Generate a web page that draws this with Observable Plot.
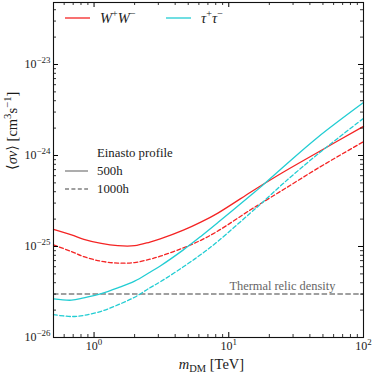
<!DOCTYPE html>
<html><head><meta charset="utf-8">
<script src="https://cdn.jsdelivr.net/npm/d3@7"></script>
<script src="https://cdn.jsdelivr.net/npm/@observablehq/plot@0.6"></script>
<style>
html,body{margin:0;padding:0;background:#fff}
#wrap{position:relative;width:374px;height:374px;font-family:"Liberation Serif","DejaVu Serif",serif;color:#222}
.entry{position:absolute;height:20px;display:flex;align-items:center;white-space:nowrap;font-size:12px}
.entry sup{font-size:70%;vertical-align:0.55em;line-height:0}
.entry svg{display:block}
</style></head><body>
<div id="wrap"><div id="chart"></div></div>
<script>
// ---- data ----
const mass   = [0.5, 0.68, 0.84, 1.13, 1.5, 2.0, 2.6, 3.1, 4.6, 6.2, 8.3, 14.5, 17.3, 25.5, 45.6, 100];
const ww500  = [1.54e-25, 1.34e-25, 1.20e-25, 1.08e-25, 1.02e-25, 1.02e-25, 1.12e-25, 1.21e-25, 1.51e-25, 1.85e-25, 2.33e-25, 3.95e-25, 4.65e-25, 6.59e-25, 1.08e-24, 2.09e-24];
const ww1000 = [1.04e-25, 8.80e-26, 7.72e-26, 6.89e-26, 6.57e-26, 6.66e-26, 7.25e-26, 7.82e-26, 9.65e-26, 1.17e-25, 1.48e-25, 2.53e-25, 2.97e-25, 4.23e-25, 7.21e-25, 1.42e-24];
const tt500  = [2.66e-26, 2.57e-26, 2.73e-26, 3.04e-26, 3.51e-26, 4.16e-26, 5.22e-26, 6.11e-26, 9.18e-26, 1.29e-25, 1.83e-25, 3.63e-25, 4.52e-25, 7.53e-25, 1.58e-24, 3.82e-24];
const tt1000 = [1.78e-26, 1.70e-26, 1.75e-26, 1.94e-26, 2.28e-26, 2.77e-26, 3.52e-26, 4.09e-26, 5.98e-26, 8.15e-26, 1.14e-25, 2.34e-25, 2.94e-25, 4.96e-25, 1.03e-24, 2.56e-24];
const relic = 3e-26;
const relicText = "Thermal relic density";
const relicTextMass = 25;

const channels = ["W+W−", "τ+τ−"];
const channelLabels = ["<i>W</i><sup>+</sup><i>W</i><sup>−</sup>", "<i>τ</i><sup>+</sup><i>τ</i><sup>−</sup>"];
const profileTitle = "Einasto profile";
const exposures = ["500h", "1000h"];

const xMajor = [1, 10, 100];
const xTickLabels = ["10<sup>0</sup>", "10<sup>1</sup>", "10<sup>2</sup>"];
const xMinor = [0.6,0.7,0.8,0.9,2,3,4,5,6,7,8,9,20,30,40,50,60,70,80,90];
const yMajor = [1e-26, 1e-25, 1e-24, 1e-23];
const yTickLabels = ["10<sup>−26</sup>", "10<sup>−25</sup>", "10<sup>−24</sup>", "10<sup>−23</sup>"];
const yMinor = [2e-26,3e-26,4e-26,5e-26,6e-26,7e-26,8e-26,9e-26,
                2e-25,3e-25,4e-25,5e-25,6e-25,7e-25,8e-25,9e-25,
                2e-24,3e-24,4e-24,5e-24,6e-24,7e-24,8e-24,9e-24,
                2e-23,3e-23,4e-23];
const xLabel = "<i>m</i><sub>DM</sub> [TeV]";
const yLabel = "⟨<i>σv</i>⟩ [cm<sup>3</sup>s<sup>−1</sup>]";

// ---- build table ----
const rows = [];
const seriesDefs = [
  {channel: channels[0], exposure: exposures[0], vals: ww500},
  {channel: channels[0], exposure: exposures[1], vals: ww1000},
  {channel: channels[1], exposure: exposures[0], vals: tt500},
  {channel: channels[1], exposure: exposures[1], vals: tt1000},
];
for (const s of seriesDefs) mass.forEach((m, i) => rows.push({mass: m, sv: s.vals[i], channel: s.channel, exposure: s.exposure, key: s.channel + s.exposure}));

// ---- styles ----
const RED = "#f42424", CYAN = "#22cdd3", GRAY = "#808080";
const colorOf = {[channels[0]]: RED, [channels[1]]: CYAN};
const dashOf = {[exposures[0]]: null, [exposures[1]]: "4,2.4"};
const W = 374, H = 374, mL = 53, mR = 11, mT = 2, mB = 37;
const iW = W - mL - mR, iH = H - mT - mB;
const MAJ = 5, MIN = 3;

const lineMarks = seriesDefs.map(s => Plot.line(rows.filter(r => r.key === s.channel + s.exposure), {
  x: "mass", y: "sv", stroke: colorOf[s.channel], strokeWidth: 1.3,
  strokeDasharray: dashOf[s.exposure], curve: "catmull-rom"
}));

const tickMarks = [
  Plot.tickX(xMajor, {x: Plot.identity, insetTop: iH - MAJ, stroke: "#000"}),
  Plot.tickX(xMinor, {x: Plot.identity, insetTop: iH - MIN, stroke: "#000", strokeWidth: 0.8}),
  Plot.tickX(xMajor, {x: Plot.identity, insetBottom: iH - MAJ, stroke: "#000"}),
  Plot.tickX(xMinor, {x: Plot.identity, insetBottom: iH - MIN, stroke: "#000", strokeWidth: 0.8}),
  Plot.tickY(yMajor, {y: Plot.identity, insetRight: iW - MAJ, stroke: "#000"}),
  Plot.tickY(yMinor, {y: Plot.identity, insetRight: iW - MIN, stroke: "#000", strokeWidth: 0.8}),
  Plot.tickY(yMajor, {y: Plot.identity, insetLeft: iW - MAJ, stroke: "#000"}),
  Plot.tickY(yMinor, {y: Plot.identity, insetLeft: iW - MIN, stroke: "#000", strokeWidth: 0.8}),
];

const chart = Plot.plot({
  width: W, height: H, marginLeft: mL, marginRight: mR, marginTop: mT, marginBottom: mB,
  x: {type: "log", domain: [0.5, 100], axis: null},
  y: {type: "log", domain: [1e-26, 4.8e-23], axis: null},
  style: {fontFamily: "'Liberation Serif', 'DejaVu Serif', serif", background: "white", overflow: "visible"},
  marks: [
    Plot.ruleY([relic], {stroke: GRAY, strokeWidth: 1.5, strokeDasharray: "5.5,2.4"}),
    Plot.text([relicText], {x: () => relicTextMass, y: () => relic, text: Plot.identity, dy: -8, fill: "#666", fontSize: 12.4}),
    ...lineMarks,
    ...tickMarks,
    Plot.frame({stroke: "#111", strokeWidth: 1.1}),
    Plot.text(xMajor, {x: Plot.identity, text: (d, i) => xTickLabels[i], frameAnchor: "bottom", lineAnchor: "top", dy: 4, fontSize: 12, fill: "#1a1a1a"}),
    Plot.text(yMajor, {y: Plot.identity, text: (d, i) => yTickLabels[i], frameAnchor: "left", textAnchor: "end", dx: -3, fontSize: 12, fill: "#1a1a1a"}),
    Plot.text([xLabel], {text: Plot.identity, frameAnchor: "bottom", lineAnchor: "top", dy: 21, dx: 3, fontSize: 14.5, fill: "#1a1a1a"}),
    Plot.text([yLabel], {text: Plot.identity, frameAnchor: "left", rotate: -90, dx: -41, fontSize: 14.5, fill: "#1a1a1a"}),
  ]
});
document.getElementById("chart").appendChild(chart);

// rich text (superscripts / subscripts / italics) as tspans
function richify(el) {
  const markup = el.textContent;
  const fs = parseFloat(getComputedStyle(el).fontSize) || 11;
  const parts = markup.split(/(<(?:i|sup|sub)>.*?<\/(?:i|sup|sub)>)/).filter(Boolean);
  let shift = 0, html = "";
  for (const p of parts) {
    let m, target = 0, attrs = "";
    if ((m = p.match(/^<sup>(.*)<\/sup>$/))) { target = -0.42 * fs; attrs = ` font-size="${0.74 * fs}"`; }
    else if ((m = p.match(/^<sub>(.*)<\/sub>$/))) { target = 0.2 * fs; attrs = ` font-size="${0.72 * fs}"`; }
    else if ((m = p.match(/^<i>(.*)<\/i>$/))) { attrs = ` font-style="italic"`; }
    const content = m ? m[1] : p;
    html += `<tspan dy="${target - shift}"${attrs}>${content}</tspan>`;
    shift = target;
  }
  el.innerHTML = html;
}
chart.querySelectorAll("text").forEach(t => { if (t.textContent.includes("<")) richify(t); });

// ---- legends (HTML overlay) ----
const wrap = document.getElementById("wrap");
function lineSvg(color, dash, w) {
  return `<svg width="${w}" height="4"><line x1="0" x2="${w}" y1="2" y2="2" stroke="${color}" stroke-width="1.3"${dash ? ` stroke-dasharray="${dash}"` : ""}/></svg>`;
}
function addEntry(left, cy, inner, gap, fs) {
  const d = document.createElement("div");
  d.className = "entry";
  d.style.left = left + "px"; d.style.top = (cy - 10) + "px"; d.style.gap = gap + "px";
  d.style.fontSize = fs + "px";
  d.innerHTML = inner;
  wrap.appendChild(d);
  return d;
}
const chLeft = [65, 166];
channels.forEach((c, i) => {
  addEntry(chLeft[i], 18, lineSvg(colorOf[c], null, 25) + `<span>${channelLabels[i]}</span>`, 10, 14.5);
});
addEntry(97, 153, `<span>${profileTitle}</span>`, 0, 12.8);
const expY = [171, 189];
exposures.forEach((x, i) => {
  addEntry(65, expY[i], lineSvg(GRAY, dashOf[x], 23) + `<span>${x}</span>`, 9, 12.8);
});
</script>
</body></html>
